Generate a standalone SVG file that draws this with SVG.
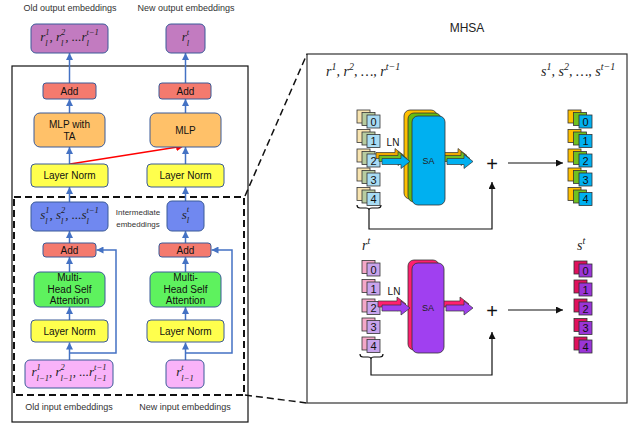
<svg xmlns="http://www.w3.org/2000/svg" width="633" height="425" viewBox="0 0 633 425">
<defs>
<style>
.lbl{font-family:"Liberation Sans",Arial,sans-serif;font-size:10px;fill:#111;text-anchor:middle}
.cap{font-family:"Liberation Sans",Arial,sans-serif;font-size:9px;fill:#333;text-anchor:middle}
.m{font-family:"Liberation Serif","Times New Roman",serif;font-style:italic;font-size:13px;fill:#222}
.s{font-size:8.5px}
.s2{font-size:10px}
.node{stroke:#3b5b98;stroke-width:1}
.conn{stroke:#4472c4;stroke-width:1.5;fill:none}
.sq{stroke:#333;stroke-width:0.8}
.num{font-family:"Liberation Sans",Arial,sans-serif;font-size:11px;fill:#111;text-anchor:middle}
.blk{stroke:#111;stroke-width:1.2;fill:none}
.ba{stroke:#333;stroke-width:0.7}
</style>
<marker id="ab" viewBox="0 0 10 10" refX="10" refY="5" markerWidth="7" markerHeight="7" markerUnits="userSpaceOnUse" orient="auto"><path d="M0,0 L10,5 L0,10 z" fill="#4472c4"/></marker>
<marker id="ar" viewBox="0 0 10 10" refX="10" refY="5" markerWidth="8" markerHeight="8" markerUnits="userSpaceOnUse" orient="auto"><path d="M0,0 L10,5 L0,10 z" fill="#ff0000"/></marker>
<marker id="ak" viewBox="0 0 10 10" refX="10" refY="5" markerWidth="7" markerHeight="7" markerUnits="userSpaceOnUse" orient="auto"><path d="M0,0 L10,5 L0,10 z" fill="#111"/></marker>
</defs>
<rect width="633" height="425" fill="#fff"/>

<!-- frames -->
<rect x="12" y="66" width="236" height="356" fill="none" stroke="#111" stroke-width="1.2"/>
<rect x="14" y="197" width="230" height="198" fill="none" stroke="#111" stroke-width="2" stroke-dasharray="7 4"/>
<line x1="245" y1="196" x2="307" y2="54" stroke="#111" stroke-width="1.5" stroke-dasharray="7 4"/>
<line x1="245" y1="395" x2="307" y2="403" stroke="#111" stroke-width="1.5" stroke-dasharray="7 4"/>
<rect x="307" y="54" width="320" height="349" fill="none" stroke="#333" stroke-width="1.2"/>

<text class="cap" x="70" y="11">Old output embeddings</text>
<text class="cap" x="186" y="11">New output embeddings</text>
<text class="cap" x="69" y="410">Old input embeddings</text>
<text class="cap" x="185" y="410">New input embeddings</text>
<text class="cap" x="138" y="215" style="font-size:8px">Intermediate</text>
<text class="cap" x="138" y="227" style="font-size:8px">embeddings</text>
<text x="467" y="32" style="font-family:'Liberation Sans',Arial,sans-serif;font-size:12px;fill:#222;text-anchor:middle">MHSA</text>

<!-- connectors -->
<g id="connectors">
<line class="conn" x1="69.5" y1="360" x2="69.5" y2="342.5" marker-end="url(#ab)"/>
<line class="conn" x1="69.5" y1="320" x2="69.5" y2="307" marker-end="url(#ab)"/>
<line class="conn" x1="69.5" y1="272" x2="69.5" y2="257" marker-end="url(#ab)"/>
<line class="conn" x1="69.5" y1="243" x2="69.5" y2="231" marker-end="url(#ab)"/>
<line class="conn" x1="69.5" y1="202" x2="69.5" y2="187" marker-end="url(#ab)"/>
<line class="conn" x1="69.5" y1="164" x2="69.5" y2="147" marker-end="url(#ab)"/>
<line class="conn" x1="69.5" y1="113" x2="69.5" y2="99" marker-end="url(#ab)"/>
<line class="conn" x1="69.5" y1="83" x2="69.5" y2="53" marker-end="url(#ab)"/>
<line class="conn" x1="185.5" y1="360" x2="185.5" y2="342.5" marker-end="url(#ab)"/>
<line class="conn" x1="185.5" y1="320" x2="185.5" y2="307" marker-end="url(#ab)"/>
<line class="conn" x1="185.5" y1="272" x2="185.5" y2="257" marker-end="url(#ab)"/>
<line class="conn" x1="185.5" y1="243" x2="185.5" y2="231" marker-end="url(#ab)"/>
<line class="conn" x1="185.5" y1="201" x2="185.5" y2="187" marker-end="url(#ab)"/>
<line class="conn" x1="185.5" y1="164" x2="185.5" y2="147" marker-end="url(#ab)"/>
<line class="conn" x1="185.5" y1="113" x2="185.5" y2="99" marker-end="url(#ab)"/>
<line class="conn" x1="185.5" y1="83" x2="185.5" y2="53" marker-end="url(#ab)"/>
<path class="conn" d="M69.5,353 H116 V250 H96.5" marker-end="url(#ab)"/>
<path class="conn" d="M185.5,353 H232 V250 H211.5" marker-end="url(#ab)"/>
<line x1="70" y1="164" x2="184" y2="146" stroke="#ff0000" stroke-width="1.5" marker-end="url(#ar)"/>
<line class="blk" x1="508" y1="163" x2="563" y2="163" marker-end="url(#ak)"/>
<line class="blk" x1="508" y1="310" x2="563" y2="310" marker-end="url(#ak)"/>
<path class="blk" d="M369,210 V229 H492 V182" marker-end="url(#ak)"/>
<path class="blk" d="M371,359 V375 H492 V332" marker-end="url(#ak)"/>
</g>

<!-- left nodes -->
<g id="out-old"><rect class="node" x="31" y="24" width="77" height="29" rx="5" fill="#c27bc0"/>
<text class="m" x="69.5" y="41" text-anchor="middle">r<tspan class="s" dy="4.5">l</tspan><tspan class="s" dx="-2.4" dy="-11">1</tspan><tspan dy="6.5">, r</tspan><tspan class="s" dy="4.5">l</tspan><tspan class="s" dx="-2.4" dy="-11">2</tspan><tspan dy="6.5">, ...r</tspan><tspan class="s" dy="4.5">l</tspan><tspan class="s" dx="-2.4" dy="-11">t−1</tspan></text></g>
<g id="out-new"><rect class="node" x="166" y="24" width="39" height="29" rx="5" fill="#c27bc0"/>
<text class="m" x="185.5" y="41" text-anchor="middle">r<tspan class="s" dy="4.5">l</tspan><tspan class="s" dx="-2.4" dy="-11">t</tspan></text></g>
<g id="add-top-old"><rect class="node" x="43" y="83" width="53" height="16" rx="3" fill="#f47a6e"/><text class="lbl" x="69.5" y="95">Add</text></g>
<g id="add-top-new"><rect class="node" x="159" y="83" width="52" height="16" rx="3" fill="#f47a6e"/><text class="lbl" x="185.5" y="95">Add</text></g>
<g id="mlp-ta"><rect class="node" x="34" y="113" width="71" height="34" rx="6" fill="#ffc169"/><text class="lbl" x="69.5" y="127.5">MLP with</text><text class="lbl" x="69.5" y="140">TA</text></g>
<g id="mlp"><rect class="node" x="150" y="113" width="71" height="34" rx="6" fill="#ffc169"/><text class="lbl" x="185.5" y="134">MLP</text></g>
<g id="ln-top-old"><rect class="node" x="31" y="164" width="77" height="23" rx="4" fill="#ffff4d"/><text class="lbl" x="69.5" y="179">Layer Norm</text></g>
<g id="ln-top-new"><rect class="node" x="147" y="164" width="77" height="23" rx="4" fill="#ffff4d"/><text class="lbl" x="185.5" y="179">Layer Norm</text></g>
<g id="s-old"><rect class="node" x="31" y="202" width="77" height="29" rx="5" fill="#7088f0"/>
<text class="m" x="69.5" y="219" text-anchor="middle">s<tspan class="s" dy="4.5">l</tspan><tspan class="s" dx="-2.4" dy="-11">1</tspan><tspan dy="6.5">, s</tspan><tspan class="s" dy="4.5">l</tspan><tspan class="s" dx="-2.4" dy="-11">2</tspan><tspan dy="6.5">, ...s</tspan><tspan class="s" dy="4.5">l</tspan><tspan class="s" dx="-2.4" dy="-11">t−1</tspan></text></g>
<g id="s-new"><rect class="node" x="167" y="201" width="37" height="30" rx="5" fill="#7088f0"/>
<text class="m" x="185.5" y="218.5" text-anchor="middle">s<tspan class="s" dy="4.5">l</tspan><tspan class="s" dx="-2.4" dy="-11">t</tspan></text></g>
<g id="add-mid-old"><rect class="node" x="43" y="243" width="53" height="14" rx="3" fill="#f47a6e"/><text class="lbl" x="69.5" y="254">Add</text></g>
<g id="add-mid-new"><rect class="node" x="159" y="243" width="52" height="14" rx="3" fill="#f47a6e"/><text class="lbl" x="185.5" y="254">Add</text></g>
<g id="mhsa-old"><rect class="node" x="34" y="272" width="71" height="35" rx="6" fill="#5ef25e"/><text class="lbl" x="69.5" y="281">Multi-</text><text class="lbl" x="69.5" y="292.5">Head Self</text><text class="lbl" x="69.5" y="304">Attention</text></g>
<g id="mhsa-new"><rect class="node" x="150" y="272" width="71" height="35" rx="6" fill="#5ef25e"/><text class="lbl" x="185.5" y="281">Multi-</text><text class="lbl" x="185.5" y="292.5">Head Self</text><text class="lbl" x="185.5" y="304">Attention</text></g>
<g id="ln-bot-old"><rect class="node" x="31" y="320" width="77" height="22" rx="4" fill="#ffff4d"/><text class="lbl" x="69.5" y="334.5">Layer Norm</text></g>
<g id="ln-bot-new"><rect class="node" x="147" y="320" width="77" height="22" rx="4" fill="#ffff4d"/><text class="lbl" x="185.5" y="334.5">Layer Norm</text></g>
<g id="in-old"><rect class="node" x="25" y="360" width="88" height="28" rx="5" fill="#f9b3f9"/>
<text class="m" x="69" y="376" text-anchor="middle">r<tspan class="s" dy="-6.5">1</tspan><tspan class="s" dx="-4.3" dy="11">l−1</tspan><tspan dy="-4.5">, r</tspan><tspan class="s" dy="-6.5">2</tspan><tspan class="s" dx="-4.3" dy="11">l−1</tspan><tspan dy="-4.5">, ...r</tspan><tspan class="s" dy="-6.5">t−1</tspan><tspan class="s" dx="-12.4" dy="11">l−1</tspan></text></g>
<g id="in-new"><rect class="node" x="166" y="360" width="38" height="28" rx="5" fill="#f9b3f9"/>
<text class="m" x="185" y="376" text-anchor="middle">r<tspan class="s" dy="-6.5">t</tspan><tspan class="s" dx="-2.4" dy="11">l−1</tspan></text></g>

<!-- right panel labels -->
<text class="m" x="326" y="76" style="font-size:14px">r<tspan class="s2" dy="-6">1</tspan><tspan dy="6">, r</tspan><tspan class="s2" dy="-6">2</tspan><tspan dy="6">, …, r</tspan><tspan class="s2" dy="-6">t−1</tspan></text>
<text class="m" x="541" y="76" style="font-size:14px">s<tspan class="s2" dy="-6">1</tspan><tspan dy="6">, s</tspan><tspan class="s2" dy="-6">2</tspan><tspan dy="6">, …, s</tspan><tspan class="s2" dy="-6">t−1</tspan></text>
<text class="m" x="362" y="250" style="font-size:14px">r<tspan class="s2" dy="-6">t</tspan></text>
<text class="m" x="577" y="250" style="font-size:14px">s<tspan class="s2" dy="-6">t</tspan></text>
<text class="lbl" x="393" y="146">LN</text>
<text class="lbl" x="394" y="295">LN</text>
<text x="492" y="171" style="font-family:'Liberation Sans',Arial,sans-serif;font-size:20px;fill:#111;text-anchor:middle">+</text>
<text x="492" y="318" style="font-family:'Liberation Sans',Arial,sans-serif;font-size:20px;fill:#111;text-anchor:middle">+</text>

<!-- top input stack -->
<g id="stack-in-top">
<rect class="sq" x="357" y="110" width="13" height="13" fill="#f8e4b0"/><rect class="sq" x="362" y="112.5" width="13" height="13" fill="#b8cca0"/><rect class="sq" x="367" y="115" width="13" height="13" fill="#a8dcf4"/><text class="num" x="373.5" y="125.5">0</text>
<rect class="sq" x="357" y="129.5" width="13" height="13" fill="#f8e4b0"/><rect class="sq" x="362" y="132" width="13" height="13" fill="#b8cca0"/><rect class="sq" x="367" y="134.5" width="13" height="13" fill="#a8dcf4"/><text class="num" x="373.5" y="145">1</text>
<rect class="sq" x="357" y="149" width="13" height="13" fill="#f8e4b0"/><rect class="sq" x="362" y="151.5" width="13" height="13" fill="#b8cca0"/><rect class="sq" x="367" y="154" width="13" height="13" fill="#a8dcf4"/><text class="num" x="373.5" y="164.5">2</text>
<rect class="sq" x="357" y="168" width="13" height="13" fill="#f8e4b0"/><rect class="sq" x="362" y="170.5" width="13" height="13" fill="#b8cca0"/><rect class="sq" x="367" y="173" width="13" height="13" fill="#a8dcf4"/><text class="num" x="373.5" y="183.5">3</text>
<rect class="sq" x="357" y="187.5" width="13" height="13" fill="#f8e4b0"/><rect class="sq" x="362" y="190" width="13" height="13" fill="#b8cca0"/><rect class="sq" x="367" y="192.5" width="13" height="13" fill="#a8dcf4"/><text class="num" x="373.5" y="203">4</text>
<path class="blk" d="M357,205 Q357,208 360,208 H366 Q369,208 369,210 Q369,208 372,208 H378 Q381,208 381,205" stroke-width="1"/>
</g>

<!-- top SA -->
<g id="sa-top">
<path class="ba" fill="#f0a800" d="M441,152.5 H458 V148.5 L467,155.5 L458,162.5 V158.5 H441 Z"/>
<path class="ba" fill="#70c020" d="M444,155.5 H461 V151.5 L470,158.5 L461,165.5 V161.5 H444 Z"/>
<path class="ba" fill="#00b0f0" d="M447,158.5 H464 V154.5 L473,161.5 L464,168.5 V164.5 H447 Z"/>
<rect x="404" y="110" width="33" height="89" rx="6" fill="#ffc000" stroke="#333" stroke-width="0.8"/>
<rect x="408" y="113" width="33" height="89" rx="6" fill="#66bb11" stroke="#333" stroke-width="0.8"/>
<rect x="412" y="116" width="33" height="89" rx="6" fill="#00b0f0" stroke="#333" stroke-width="0.8"/>
<text x="428.5" y="164" style="font-family:'Liberation Sans',Arial,sans-serif;font-size:9px;fill:#222;text-anchor:middle">SA</text>
<path class="ba" fill="#f0a800" d="M376,152.5 H395 V148.5 L404,155.5 L395,162.5 V158.5 H376 Z"/>
<path class="ba" fill="#70c020" d="M379,155.5 H398 V151.5 L407,158.5 L398,165.5 V161.5 H379 Z"/>
<path class="ba" fill="#00b0f0" d="M382,158.5 H401 V154.5 L410,161.5 L401,168.5 V164.5 H382 Z"/>
</g>

<!-- top output stack -->
<g id="stack-out-top">
<rect class="sq" x="568" y="110" width="13" height="13" fill="#ffc000"/><rect class="sq" x="573.5" y="112.5" width="13" height="13" fill="#70c020"/><rect class="sq" x="579" y="115" width="13" height="13" fill="#00b0f0"/><text class="num" x="585.5" y="125.5">0</text>
<rect class="sq" x="568" y="129.5" width="13" height="13" fill="#ffc000"/><rect class="sq" x="573.5" y="132" width="13" height="13" fill="#70c020"/><rect class="sq" x="579" y="134.5" width="13" height="13" fill="#00b0f0"/><text class="num" x="585.5" y="145">1</text>
<rect class="sq" x="568" y="149" width="13" height="13" fill="#ffc000"/><rect class="sq" x="573.5" y="151.5" width="13" height="13" fill="#70c020"/><rect class="sq" x="579" y="154" width="13" height="13" fill="#00b0f0"/><text class="num" x="585.5" y="164.5">2</text>
<rect class="sq" x="568" y="168" width="13" height="13" fill="#ffc000"/><rect class="sq" x="573.5" y="170.5" width="13" height="13" fill="#70c020"/><rect class="sq" x="579" y="173" width="13" height="13" fill="#00b0f0"/><text class="num" x="585.5" y="183.5">3</text>
<rect class="sq" x="568" y="187.5" width="13" height="13" fill="#ffc000"/><rect class="sq" x="573.5" y="190" width="13" height="13" fill="#70c020"/><rect class="sq" x="579" y="192.5" width="13" height="13" fill="#00b0f0"/><text class="num" x="585.5" y="203">4</text>
</g>

<!-- bottom input stack -->
<g id="stack-in-bot">
<rect class="sq" x="362" y="260.5" width="13" height="13" fill="#f4a8c8"/><rect class="sq" x="367" y="263" width="13" height="13" fill="#c8a4ec"/><text class="num" x="373.5" y="273.5">0</text>
<rect class="sq" x="362" y="279.5" width="13" height="13" fill="#f4a8c8"/><rect class="sq" x="367" y="282" width="13" height="13" fill="#c8a4ec"/><text class="num" x="373.5" y="292.5">1</text>
<rect class="sq" x="362" y="299" width="13" height="13" fill="#f4a8c8"/><rect class="sq" x="367" y="301.5" width="13" height="13" fill="#c8a4ec"/><text class="num" x="373.5" y="312">2</text>
<rect class="sq" x="362" y="318" width="13" height="13" fill="#f4a8c8"/><rect class="sq" x="367" y="320.5" width="13" height="13" fill="#c8a4ec"/><text class="num" x="373.5" y="331">3</text>
<rect class="sq" x="362" y="337" width="13" height="13" fill="#f4a8c8"/><rect class="sq" x="367" y="339.5" width="13" height="13" fill="#c8a4ec"/><text class="num" x="373.5" y="350">4</text>
<path class="blk" d="M360,354 Q360,357 363,357 H368 Q371,357 371,359 Q371,357 374,357 H380 Q383,357 383,354" stroke-width="1"/>
</g>

<!-- bottom SA -->
<g id="sa-bot">
<path class="ba" fill="#ff2070" d="M442,301 H460 V297 L469,304 L460,311 V307 H442 Z"/>
<path class="ba" fill="#a040f0" d="M446,305 H464 V301 L473,308 L464,315 V311 H446 Z"/>
<rect x="408" y="260" width="31" height="90" rx="6" fill="#ff1f6e" stroke="#333" stroke-width="0.8"/>
<rect x="412" y="263" width="32" height="90" rx="6" fill="#a040f0" stroke="#333" stroke-width="0.8"/>
<text x="428" y="311" style="font-family:'Liberation Sans',Arial,sans-serif;font-size:9px;fill:#222;text-anchor:middle">SA</text>
<path class="ba" fill="#ff2070" d="M378,301 H397 V297 L406,304 L397,311 V307 H378 Z"/>
<path class="ba" fill="#a040f0" d="M382,305 H401 V301 L410,308 L401,315 V311 H382 Z"/>
</g>

<!-- bottom output stack -->
<g id="stack-out-bot">
<rect class="sq" x="574" y="261" width="13" height="13" fill="#e0105c"/><rect class="sq" x="579" y="264" width="13" height="13" fill="#9a35d8"/><text class="num" x="585.5" y="274.5">0</text>
<rect class="sq" x="574" y="280" width="13" height="13" fill="#e0105c"/><rect class="sq" x="579" y="283" width="13" height="13" fill="#9a35d8"/><text class="num" x="585.5" y="293.5">1</text>
<rect class="sq" x="574" y="299" width="13" height="13" fill="#e0105c"/><rect class="sq" x="579" y="302" width="13" height="13" fill="#9a35d8"/><text class="num" x="585.5" y="312.5">2</text>
<rect class="sq" x="574" y="318.5" width="13" height="13" fill="#e0105c"/><rect class="sq" x="579" y="321.5" width="13" height="13" fill="#9a35d8"/><text class="num" x="585.5" y="332">3</text>
<rect class="sq" x="574" y="337" width="13" height="13" fill="#e0105c"/><rect class="sq" x="579" y="340" width="13" height="13" fill="#9a35d8"/><text class="num" x="585.5" y="350.5">4</text>
</g>
</svg>
